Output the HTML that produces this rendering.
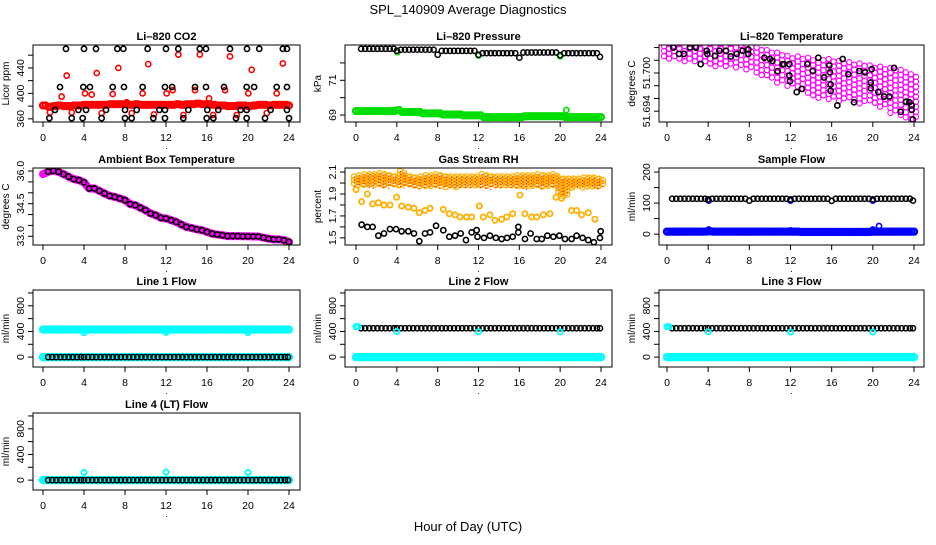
<!DOCTYPE html>
<html><head><meta charset="utf-8"><style>
body{margin:0;background:#fff}
svg text{font-family:"Liberation Sans",Arial,sans-serif}
</style></head><body>
<svg id="c" width="936" height="540" viewBox="0 0 936 540" xmlns="http://www.w3.org/2000/svg">
<rect width="936" height="540" fill="#fff"/>
<text x="468" y="14" text-anchor="middle" font-size="13">SPL_140909  Average Diagnostics</text>
<text x="468" y="531" text-anchor="middle" font-size="13">Hour of Day (UTC)</text>
</svg>
<script>
// ---- data ----
const xTicks=[0,4,8,12,16,20,24];
const tHalf=[0,0.5,1,1.5,2,2.5,3,3.5,4,4.5,5,5.5,6,6.5,7,7.5,8,8.5,9,9.5,10,10.5,11,11.5,12,12.5,13,13.5,14,14.5,15,15.5,16,16.5,17,17.5,18,18.5,19,19.5,20,20.5,21,21.5,22,22.5,23,23.5,24];
const tHour=[0,1,2,3,4,5,6,7,8,9,10,11,12,13,14,15,16,17,18,19,20,21,22,23,24];
const tBlk=[0.5,0.9,1.3,1.7,2.1,2.5,2.9,3.3,3.7,4.0,4.4,4.8,5.2,5.6,6.0,6.4,6.8,7.2,7.6,8.0,8.4,8.8,9.2,9.6,10.0,10.4,10.8,11.2,11.6,12.0,12.4,12.8,13.2,13.6,14.0,14.4,14.8,15.2,15.6,16.0,16.4,16.8,17.2,17.6,18.0,18.4,18.8,19.2,19.6,20.0,20.4,20.8,21.2,21.6,22.0,22.4,22.8,23.2,23.6,23.9];

// CO2
const co2Red=[381,379,380,381,380,380,381,381,382,382,382,382,382,383,383,383,383,382,383,382,382,382,382,382,382,382,383,382,383,383,384,383,383,382,381,381,380,380,381,381,380,381,382,382,381,382,382,382,381];
const co2RedOutT=[0.68,1.82,2.31,2.8,4.1,4.75,5.24,5.72,6.8,7.35,8.16,8.65,9.72,10.27,10.83,12.06,12.65,13.2,13.7,14.83,15.3,16.2,16.6,17.76,18.24,18.9,20.03,20.36,21.83,22.8,23.4];
const co2RedOutV=[370,395,428,370,400,398,432,369,399,440,386,369,400,446,367,400,405,461,366,405,461,392,366,405,458,366,400,437,369,400,447];
const co2BlkT=[2.24,4.0,5.17,7.25,7.84,10.21,12.0,13.2,15.3,15.9,18.24,19.9,21.1,23.4,23.8, 1.66,3.93,4.58,6.8,7.9,9.72,11.9,12.6,14.83,15.9,17.66,19.87,20.6,22.8,23.8, 1.17,3.45,4.2,6.15,8.0,9.14,11.35,11.9,14.18,16.03,17.1,19.28,19.87,22.2,23.8, 0.62,2.8,3.87,5.72,8.0,8.65,10.76,11.9,13.69,15.97,16.62,18.83,19.87,21.66,24.0];
const co2BlkV=[470,470,470,470,470,470,470,470,470,470,470,470,470,470,470, 410,410,410,410,410,410,410,410,410,410,410,410,410,410,410, 374,374,374,374,374,374,374,374,374,374,374,374,374,374,374, 361,361,361,361,361,361,361,361,361,361,361,361,361,361,361];

// Pressure
const presBlk=[72.81,72.81,72.81,72.81,72.81,72.81,72.81,72.81,72.81,72.70,72.76,72.76,72.76,72.76,72.76,72.76,72.76,72.76,72.76,72.47,72.69,72.69,72.69,72.69,72.69,72.69,72.69,72.69,72.69,72.47,72.56,72.56,72.56,72.56,72.56,72.56,72.56,72.56,72.56,72.3,72.6,72.6,72.6,72.6,72.6,72.6,72.6,72.6,72.6,72.45,72.56,72.56,72.56,72.56,72.56,72.56,72.56,72.56,72.56,72.35];
const presGrn=[69.23,69.23,69.23,69.23,69.23,69.23,69.23,69.23,69.28,69.18,69.18,69.18,69.18,69.1,69.1,69.1,69.1,69.03,69.03,69.03,69.03,68.98,68.98,68.98,68.98,68.88,68.88,68.88,68.88,68.88,68.88,68.88,68.88,68.93,68.93,68.93,68.93,68.93,68.93,68.93,68.93,68.88,68.88,68.88,68.88,68.88,68.88,68.88,68.88];
const presGrnOutT=[4.05,12.0,20.0,20.6];
const presGrnOutV=[72.62,72.42,72.38,69.29];

// Li-820 temperature
const tempHi=[51.7050,51.7050,51.7050,51.7050,51.7050,51.7050,51.7050,51.7048,51.7045,51.7040,51.7036,51.7032,51.7027,51.7026,51.7024,51.7024,51.7022,51.7019,51.7017,51.7015,51.7012,51.7010,51.7008,51.7005,51.6998];
const tempLo=[51.7022,51.7020,51.7018,51.7015,51.7012,51.7010,51.7010,51.7008,51.7003,51.6995,51.6990,51.6985,51.6978,51.6972,51.6965,51.6960,51.6958,51.6955,51.6955,51.6952,51.6950,51.6945,51.6935,51.6930,51.6925];
const tempBlkT=[0.62,1.17,1.65,2.24,2.82,3.27,3.86,3.92,4.66,5.09,5.73,6.19,6.77,7.35,7.9,7.9,9.46,10.01,10.24,10.75,11.24,11.37,11.89,11.89,11.95,12.6,13.09,13.64,14.16,14.7,15.26,15.77,15.84,15.9,15.9,16.55,17.07,17.62,18.17,18.69,19.24,19.8,19.8,19.89,20.54,21.09,21.6,22.06,22.71,23.23,23.55,23.78,23.78,23.88];
const tempBlkV=[51.7040,51.7030,51.7030,51.7040,51.7040,51.7014,51.7035,51.7030,51.7027,51.7035,51.7035,51.7026,51.7030,51.7035,51.7037,51.7030,51.7024,51.7022,51.7019,51.7003,51.7014,51.7014,51.7014,51.6996,51.6987,51.6970,51.6975,51.7014,51.7003,51.7024,51.6993,51.7012,51.7001,51.6982,51.6972,51.6949,51.7022,51.6998,51.6954,51.7003,51.7001,51.6985,51.6976,51.7006,51.6970,51.6963,51.6963,51.7008,51.6939,51.6955,51.6954,51.6949,51.6942,51.6927];

// Ambient box temperature
const ambient=[35.86,35.97,36.01,35.97,35.86,35.74,35.63,35.58,35.48,35.20,35.20,35.09,34.97,34.86,34.81,34.74,34.66,34.48,34.43,34.31,34.20,34.05,33.97,33.85,33.82,33.74,33.66,33.54,33.43,33.38,33.32,33.28,33.20,33.12,33.08,33.05,33.01,33.01,33.01,33.00,33.00,32.99,32.99,32.94,32.89,32.86,32.86,32.82,32.74];

// Gas stream RH
const rhHi=[2.06,2.07,2.08,2.08,2.08,2.09,2.08,2.07,2.06,2.11,2.07,2.06,2.05,2.06,2.07,2.07,2.08,2.07,2.06,2.06,2.06,2.06,2.06,2.06,2.06,2.08,2.07,2.06,2.06,2.06,2.06,2.06,2.07,2.07,2.07,2.07,2.08,2.07,2.07,2.08,2.05,2.04,2.04,2.04,2.04,2.05,2.05,2.05,2.04];
const rhLo=[1.97,1.98,1.98,1.97,1.98,1.97,1.97,1.98,1.98,1.97,1.98,1.97,1.96,1.97,1.97,1.97,1.97,1.97,1.96,1.97,1.96,1.97,1.97,1.98,1.97,1.97,1.96,1.97,1.97,1.98,1.97,1.97,1.97,1.96,1.97,1.97,1.96,1.97,1.97,1.97,1.90,1.88,1.96,1.97,1.96,1.97,1.97,1.96,1.97];
const rhOrT=[0,0.55,1.11,1.63,2.19,2.74,3.33,3.98,4.47,5.12,5.68,6.2,6.76,7.25,8.55,9.14,9.7,10.19,10.84,11.33,12.08,12.47,13.12,13.61,14.27,14.76,15.35,16.06,16.55,17.2,17.7,18.35,19.0,19.59,20.14,21.12,21.61,22.1,22.75,23.4];
const rhOrV=[1.94,1.83,1.90,1.81,1.82,1.80,1.80,1.87,1.79,1.78,1.77,1.73,1.75,1.77,1.76,1.72,1.71,1.69,1.69,1.69,1.79,1.69,1.71,1.66,1.67,1.69,1.72,1.89,1.72,1.69,1.69,1.71,1.72,1.87,1.86,1.75,1.75,1.71,1.73,1.67];
const rhBlkT=[0.55,1.11,1.63,2.19,2.74,3.33,3.92,4.47,5.12,5.68,6.2,6.76,7.25,7.84,8.55,9.14,9.7,10.25,10.77,11.33,11.82,11.9,12.54,13.12,13.7,14.27,14.8,15.35,15.9,15.9,16.55,17.1,17.7,18.2,18.75,19.33,19.92,20.47,21.12,21.61,22.2,22.75,23.3,23.9,23.97];
const rhBlkV=[1.62,1.60,1.60,1.52,1.54,1.58,1.58,1.56,1.56,1.54,1.47,1.54,1.55,1.61,1.57,1.51,1.52,1.54,1.48,1.55,1.57,1.51,1.50,1.52,1.50,1.49,1.50,1.51,1.55,1.60,1.49,1.54,1.49,1.49,1.52,1.51,1.52,1.49,1.49,1.52,1.50,1.48,1.46,1.50,1.56];

// Sample flow
const sampBlk=[114,114,114,114,114,114,114,114,114,112,114,114,114,114,114,114,114,114,114,108,114,114,114,114,114,114,114,114,114,112,114,114,114,114,114,114,114,114,114,107,114,114,114,114,114,114,114,114,114,112,114,114,114,114,114,114,114,114,114,108];
const sampBlue=[8,8,8,8,8,8,8,8,9,8,8,8,8,8,8,8,8,8,8,8,8,8,8,8,8,8,7,7,7,7,7,7,7,7,7,7,7,7,7,7,8,8,8,8,8,8,8,8,8];
const sampBlueOutT=[4.05,12.0,20.0,20.6,4.05,12.0,20.0];
const sampBlueOutV=[15,12,15,26,108,108,108];

// Line flows
const line1Blk=new Array(60).fill(0);
const line1CyanHi=[430,430,430,430,430,430,430,430,430,430,430,430,430,430,430,430,430,430,430,430,430,430,430,430,430,430,430,430,430,430,430,430,430,430,430,430,430,430,430,430,430,430,430,430,430,430,430,430,430];
const line1CyanLo=new Array(49).fill(0);
const line1OutT=[4,12,20];
const line1OutV=[380,385,380];
const line2Blk=new Array(60).fill(450);
const line2Cyan=new Array(49).fill(0);
const line2OutT=[0,0.2,4,12,20];
const line2OutV=[475,475,400,395,395];
const line3Blk=new Array(60).fill(450);
const line3Cyan=new Array(49).fill(0);
const line3OutT=[0,0.2,4,12,20];
const line3OutV=[475,475,395,390,392];
const line4Blk=new Array(60).fill(0);
const line4Cyan=new Array(49).fill(0);
const line4OutT=[4,12,20];
const line4OutV=[120,125,120];

// ---- drawing ----
const NS='http://www.w3.org/2000/svg';
const svg=document.getElementById('c');
const colX0=[43,356,667], colX24=[289,601,914], colL=[33,345,659], colR=[300,612,924];
const rowT=[45,168,290,413], H=77;
function mk(tag,attrs,parent){const e=document.createElementNS(NS,tag);for(const k in attrs)e.setAttribute(k,attrs[k]);(parent||svg).appendChild(e);return e;}
const ylabFmt={'ambient':1,'temperature':3,'rh':1};

function panel(name,col,row,ymin,ymax,yt,yl,ylab,title){
  const g=mk('g',{});
  
  
  const L=colL[col],R=colR[col],T=rowT[row],B=T+H;
  const xs=h=>colX0[col]+(colX24[col]-colX0[col])*h/24;
  const ys=v=>B-(v-ymin)/(ymax-ymin)*H;
  const clipId='clip'+col+row;
  const cp=mk('clipPath',{id:clipId},g);mk('rect',{x:L,y:T,width:R-L,height:H},cp);
  const t=mk('text',{x:(L+R)/2,y:T-5,'text-anchor':'middle','font-size':'11','font-weight':'bold'},g);t.textContent=title;
  
  
  xTicks.forEach(h=>{
    mk('line',{x1:xs(h),x2:xs(h),y1:B,y2:B+5,stroke:'#000','stroke-width':1},g);
    const tx=mk('text',{x:xs(h),y:B+19,'text-anchor':'middle','font-size':'10.5'},g);tx.textContent=h;
    
    
  });
  const dot=mk('text',{x:(L+R)/2,y:B+27,'text-anchor':'middle','font-size':'9'},g);dot.textContent='.';
  yt.forEach(v=>{
    const y=ys(v);
    mk('line',{x1:L-5,x2:L,y1:y,y2:y,stroke:'#000','stroke-width':1},g);
  });
  yl.forEach(v=>{
    const y=ys(v);
    const tx=mk('text',{x:0,y:0,'text-anchor':'middle','font-size':'10.5',transform:`translate(${L-9},${y}) rotate(-90)`},g);
    tx.textContent=(typeof v==='number'&&ylabFmt[name])?v.toFixed(ylabFmt[name]):v;
    
    
  });
  const yl2=mk('text',{x:0,y:0,'text-anchor':'middle','font-size':'10',transform:`translate(${L-24},${T+H/2}) rotate(-90)`},g);
  yl2.textContent=ylab;
  
  
  const pg=mk('g',{'clip-path':`url(#${clipId})`},g);
  mk('rect',{x:L,y:T,width:R-L,height:H,fill:'none',stroke:'#000','stroke-width':1},g);
  return {xs,ys,pg};
}

function pts(p,ts,vs,color,r,sw,name){
  const g=mk('g',{},p.pg);
  
  
  ts.forEach((t,i)=>{mk('circle',{cx:p.xs(t),cy:p.ys(vs[i]),r:r,fill:'none',stroke:color,'stroke-width':sw},g);});
}
function band(p,ts,lo,hi,color,name,dx,step,sw){
  const g=mk('g',{},p.pg);
  
  
  ts.forEach((t,i)=>{
    const y1=p.ys(hi[i]),y2=p.ys(lo[i]);
    (dx||[0]).forEach((d,k)=>{
      for(let y=y1+(k%2)*step/2;y<=y2+0.1;y+=step){
        mk('circle',{cx:p.xs(t)+d,cy:y,r:2.6,fill:'none',stroke:color,'stroke-width':sw},g);
      }
    });
  });
}

// CO2
let p=panel('co2',0,0,355,476,[360,380,400,420,440,460],[360,400,440],'Licor ppm','Li\u2013820 CO2');
pts(p,tHalf,co2Red,'#ff0000',3,2.2,'co2-red-series');
pts(p,tHalf.map(t=>t+0.25).filter(t=>t<=24),co2Red.slice(0,48),'#ff0000',3,2.2,'co2-red-series-b');
pts(p,co2RedOutT,co2RedOutV,'#ff0000',2.6,1.6,'co2-red-outliers');
pts(p,co2BlkT,co2BlkV,'#000',2.6,1.6,'co2-black-series');

// Pressure
p=panel('pressure',1,0,68.6,73.03,[69,70,71,72],[69,71],'kPa','Li\u2013820 Pressure');
pts(p,tHalf,presGrn,'#00dd00',3,2.2,'pressure-green-series');
pts(p,tHalf.map(t=>t+0.25).filter(t=>t<=24),presGrn.slice(0,48),'#00dd00',3,2.2,'pressure-green-series-b');
pts(p,presGrnOutT,presGrnOutV,'#00dd00',2.6,1.6,'pressure-green-outliers');
pts(p,tBlk,presBlk,'#000',2.6,1.5,'pressure-black-series');

// Temperature
p=panel('temperature',2,0,51.6923,51.7044,[51.694,51.696,51.698,51.700,51.702,51.704],[51.694,51.700],'degrees C','Li\u2013820 Temperature');
band(p,tHour,tempLo,tempHi,'#ff00ff','temperature-magenta-series',[-3,2],5,1.1);
pts(p,tempBlkT,tempBlkV,'#000',2.6,1.6,'temperature-black-series');

// Ambient
p=panel('ambient',0,1,32.6,36.14,[33,33.5,34,34.5,35,35.5,36],[33.0,34.5,36.0],'degrees C','Ambient Box Temperature');
const amb=mk('polyline',{points:tHalf.map((t,i)=>p.xs(t)+','+p.ys(ambient[i])).join(' '),fill:'none',stroke:'#ff00ff','stroke-width':8,'stroke-linejoin':'round','stroke-linecap':'round'},p.pg);


pts(p,tHalf.slice(1),ambient.slice(1),'#000',2.6,1.6,'ambient-black-series');

// RH
p=panel('rh',1,1,1.435,2.137,[1.5,1.6,1.7,1.8,1.9,2.0,2.1],[1.5,1.7,1.9,2.1],'percent','Gas Stream RH');
band(p,tHalf,rhLo,rhHi,'#ffb000','rh-orange-band',[-2,2],3.5,1.3);
const rg=mk('g',{},p.pg);


tHalf.forEach((t,i)=>{for(let y=p.ys(rhHi[i]);y<=p.ys(rhLo[i]);y+=3){mk('rect',{x:p.xs(t)-2,y:y,width:1,height:1,fill:'#ff0000'},rg);mk('rect',{x:p.xs(t)+1.5,y:y+1.5,width:1,height:1,fill:'#ff0000'},rg);}});
pts(p,rhOrT,rhOrV,'#ffb000',2.6,1.8,'rh-orange-outliers');
pts(p,rhBlkT,rhBlkV,'#000',2.6,1.6,'rh-black-series');

// Sample flow
p=panel('sample',2,1,-35,213,[0,50,100,150,200],[0,100,200],'ml/min','Sample Flow');
pts(p,tHalf,sampBlue,'#0000ff',3,2.4,'sample-blue-series');
pts(p,tHalf.map(t=>t+0.25).filter(t=>t<=24),sampBlue.slice(0,48),'#0000ff',3,2.4,'sample-blue-series-b');
pts(p,sampBlueOutT,sampBlueOutV,'#0000ff',2.6,1.6,'sample-blue-outliers');
pts(p,tBlk,sampBlk,'#000',2.6,1.5,'sample-black-series');

// Line flows
function linePanel(name,col,row,title,cyanSets,outT,outV,blk){
  const q=panel(name,col,row,-154,1046,[0,200,400,600,800,1000],[0,400,800],'ml/min',title);
  cyanSets.forEach((s,k)=>{
    pts(q,tHalf,s,'#00ffff',3,2.4,name+'-cyan-series-'+k);
    pts(q,tHalf.map(t=>t+0.25).filter(t=>t<=24),s.slice(0,48),'#00ffff',3,2.4,name+'-cyan-series-b'+k);
  });
  pts(q,tBlk,blk,'#000',2.6,1.5,name+'-black-series');
  pts(q,outT,outV,'#00ffff',2.6,1.8,name+'-cyan-outliers');
}
linePanel('line1',0,2,'Line 1 Flow',[line1CyanHi,line1CyanLo],line1OutT,line1OutV,line1Blk);
linePanel('line2',1,2,'Line 2 Flow',[line2Cyan],line2OutT,line2OutV,line2Blk);
linePanel('line3',2,2,'Line 3 Flow',[line3Cyan],line3OutT,line3OutV,line3Blk);
linePanel('line4',0,3,'Line 4 (LT) Flow',[line4Cyan],line4OutT,line4OutV,line4Blk);
</script>
</body></html>
